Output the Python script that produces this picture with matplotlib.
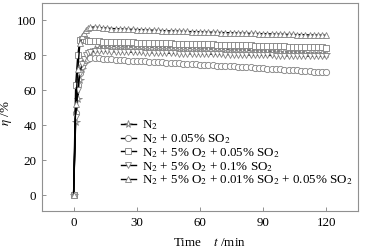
import numpy as np
import matplotlib.pyplot as plt

plt.rcParams['font.family'] = ['Liberation Serif', 'DejaVu Serif']
plt.rcParams['mathtext.fontset'] = 'stix'

# sampling times (min)
t = [0, 1, 2, 3, 4, 5, 6, 7, 8,
     10, 12, 14, 16, 18, 20, 22, 24, 26, 28, 30, 32, 34, 36, 38, 40,
     42, 44, 46, 48, 50, 52, 54, 56, 58, 60, 62, 64, 66, 68, 70,
     72, 74, 76, 78, 80, 82, 84, 86, 88, 90, 92, 94, 96, 98, 100,
     102, 104, 106, 108, 110, 112, 114, 116, 118, 120]

# removal efficiency (%)
eta_n2 = [0, 42, 55, 66, 72, 76, 79, 81, 82,
          83.5, 84.5, 85.0, 85.2, 85.3, 85.3, 85.2, 85.2, 85.1, 85.0, 85.0, 84.9, 84.9, 84.8, 84.8, 84.7,
          84.6, 84.6, 84.5, 84.4, 84.4, 84.3, 84.2, 84.2, 84.1, 84.0, 83.9, 83.8, 83.8, 83.7, 83.6,
          83.5, 83.4, 83.3, 83.2, 83.1, 83.0, 82.9, 82.8, 82.7, 82.6, 82.5, 82.4, 82.3, 82.2, 82.1,
          82.0, 81.9, 81.8, 81.7, 81.6, 81.5, 81.4, 81.3, 81.2, 81.1]
eta_so2 = [0, 47, 63, 70, 74, 76, 77.5, 78, 78.5,
           78.5, 78.4, 78.2, 78.0, 77.8, 77.6, 77.4, 77.3, 77.1, 77.0, 76.9, 76.7, 76.6, 76.4, 76.3, 76.1,
           76.0, 75.8, 75.7, 75.5, 75.4, 75.3, 75.1, 75.0, 74.9, 74.7, 74.6, 74.5, 74.3, 74.2, 74.1,
           73.9, 73.8, 73.7, 73.5, 73.4, 73.2, 73.1, 72.9, 72.8, 72.6, 72.5, 72.3, 72.2, 72.0, 71.9,
           71.7, 71.6, 71.4, 71.3, 71.1, 71.0, 70.8, 70.7, 70.5, 70.4]
eta_o2_so2 = [0, 63, 80, 89, 89.5, 89.2, 88.8, 88.5, 88.3,
              88.1, 88.0, 87.9, 87.8, 87.7, 87.6, 87.5, 87.5, 87.4, 87.4, 87.3, 87.3, 87.2, 87.2, 87.1, 87.0,
              87.0, 86.9, 86.9, 86.8, 86.8, 86.7, 86.6, 86.6, 86.5, 86.5, 86.4, 86.4, 86.3, 86.2, 86.2,
              86.1, 86.0, 86.0, 85.9, 85.8, 85.8, 85.7, 85.6, 85.6, 85.5, 85.4, 85.4, 85.3, 85.2, 85.2,
              85.1, 85.0, 85.0, 84.9, 84.9, 84.8, 84.7, 84.7, 84.6, 84.5]
eta_o2_hso2 = [0, 45, 60, 70, 75, 78, 80, 81.5, 82,
               82.5, 82.5, 82.4, 82.3, 82.2, 82.1, 82.0, 82.0, 81.9, 81.8, 81.8, 81.7, 81.6, 81.6, 81.5, 81.4,
               81.4, 81.3, 81.2, 81.2, 81.1, 81.0, 81.0, 80.9, 80.9, 80.8, 80.8, 80.7, 80.7, 80.6, 80.6,
               80.5, 80.5, 80.4, 80.4, 80.3, 80.3, 80.2, 80.2, 80.1, 80.1, 80.0, 80.0, 79.9, 79.9, 79.8,
               79.8, 79.8, 79.7, 79.7, 79.6, 79.6, 79.6, 79.5, 79.5, 79.5]
eta_o2_mix = [0, 52, 72, 87, 91, 93, 94.5, 95.5, 96,
              96.3, 96.0, 95.8, 95.6, 95.4, 95.3, 95.2, 95.1, 95.0, 94.9, 94.8, 94.7, 94.6, 94.5, 94.4, 94.3,
              94.2, 94.1, 94.0, 94.0, 93.9, 93.8, 93.7, 93.6, 93.6, 93.5, 93.4, 93.3, 93.3, 93.2, 93.1,
              93.0, 93.0, 92.9, 92.8, 92.8, 92.7, 92.6, 92.6, 92.5, 92.4, 92.4, 92.3, 92.2, 92.2, 92.1,
              92.0, 92.0, 91.9, 91.9, 91.8, 91.7, 91.7, 91.6, 91.6, 91.5]

labels = [r'N$_2$',
          r'N$_2$ + 0.05% SO$_2$',
          r'N$_2$ + 5% O$_2$ + 0.05% SO$_2$',
          r'N$_2$ + 5% O$_2$ + 0.1% SO$_2$',
          r'N$_2$ + 5% O$_2$ + 0.01% SO$_2$ + 0.05% SO$_2$']
series = [eta_n2, eta_so2, eta_o2_so2, eta_o2_hso2, eta_o2_mix]
markers = ['*', 'o', 's', 'v', '^']

fig = plt.figure(figsize=(3.68, 2.48), dpi=100)
ax = fig.add_axes([0.114, 0.149, 0.859, 0.839])

for y, m, lab in zip(series, markers, labels):
    ax.plot(t, y, color='black', linewidth=1.0, marker=m,
            markersize=4.5 if m != '*' else 5.5,
            markerfacecolor='white', markeredgecolor='#808080',
            markeredgewidth=0.6, label=lab)

ax.set_xlim(-15, 135)
ax.set_ylim(-9, 110)
ax.set_xticks([0, 30, 60, 90, 120])
ax.set_yticks([0, 20, 40, 60, 80, 100])
ax.tick_params(direction='in', length=3, width=0.6, color='#808080',
               labelsize=9.4, pad=4)
for s in ax.spines.values():
    s.set_color('#909090')
    s.set_linewidth(0.8)

ax.set_xlabel(r'Time    $\mathit{t}$ /min', fontsize=9.4)
ax.set_ylabel(r'$\eta$ /%', fontsize=9.4)
ax.xaxis.set_label_coords(0.53, -0.125)
ax.yaxis.set_label_coords(-0.088, 0.47)

ax.legend(loc='lower left', bbox_to_anchor=(0.22, 0.07), frameon=False,
          fontsize=9.4, handlelength=1.2, handletextpad=0.45,
          labelspacing=0.0, borderpad=0.2)

fig.savefig('out.png', dpi=100)
